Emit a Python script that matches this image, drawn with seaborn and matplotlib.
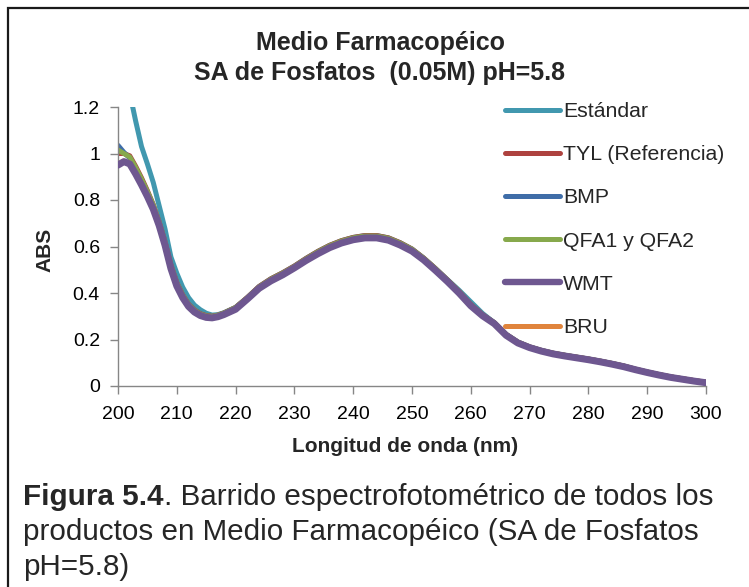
import numpy as np
import pandas as pd
import matplotlib
matplotlib.use("Agg")
import matplotlib.pyplot as plt
from matplotlib.patches import Rectangle
from matplotlib.lines import Line2D
import seaborn as sns

# Wavelength grid (nm)
wavelength = [200, 201, 202, 203, 204, 205, 206, 207, 208, 209, 210, 211, 212, 213, 214,
              215, 216, 217, 218,
              220, 222, 224, 226, 228, 230, 232, 234, 236, 238, 240, 242, 244, 246, 248,
              250, 252, 254, 256, 258, 260, 262, 264, 266, 268, 270, 272, 274, 276, 278,
              280, 282, 284, 286, 288, 290, 292, 294, 296, 298, 300]

estandar = [1.50, 1.38, 1.26, 1.14, 1.03, 0.955, 0.875, 0.775, 0.675, 0.555, 0.485, 0.425,
            0.380, 0.348, 0.328, 0.313, 0.305, 0.307, 0.315,
            0.338, 0.380, 0.428, 0.461, 0.487, 0.516, 0.549, 0.579, 0.605, 0.625, 0.639,
            0.647, 0.647, 0.637, 0.616, 0.589, 0.550, 0.505, 0.458, 0.412, 0.362, 0.312,
            0.272, 0.222, 0.189, 0.168, 0.153, 0.141, 0.132, 0.124, 0.116, 0.107, 0.097,
            0.086, 0.072, 0.060, 0.049, 0.039, 0.031, 0.023, 0.016]

tyl = [1.000, 1.000, 0.990, 0.945, 0.895, 0.840, 0.780, 0.705, 0.620, 0.520, 0.445, 0.392,
       0.352, 0.327, 0.311, 0.303, 0.300, 0.305, 0.314,
       0.338, 0.381, 0.428, 0.461, 0.487, 0.516, 0.549, 0.579, 0.605, 0.625, 0.639,
       0.647, 0.647, 0.637, 0.616, 0.589, 0.550, 0.505, 0.457, 0.407, 0.351, 0.307,
       0.272, 0.222, 0.189, 0.168, 0.153, 0.141, 0.132, 0.124, 0.116, 0.107, 0.097,
       0.086, 0.072, 0.060, 0.049, 0.039, 0.031, 0.023, 0.016]

bmp = [1.035, 1.005, 0.980, 0.935, 0.885, 0.832, 0.775, 0.700, 0.615, 0.515, 0.440, 0.388,
       0.349, 0.324, 0.308, 0.300, 0.298, 0.303, 0.312,
       0.336, 0.378, 0.424, 0.457, 0.483, 0.512, 0.545, 0.575, 0.601, 0.621, 0.635,
       0.643, 0.643, 0.633, 0.612, 0.586, 0.547, 0.502, 0.455, 0.405, 0.349, 0.305,
       0.271, 0.221, 0.188, 0.167, 0.152, 0.140, 0.131, 0.123, 0.115, 0.106, 0.096,
       0.085, 0.071, 0.059, 0.048, 0.038, 0.030, 0.022, 0.015]

qfa = [1.015, 1.000, 0.985, 0.940, 0.890, 0.836, 0.778, 0.703, 0.618, 0.518, 0.442, 0.390,
       0.350, 0.325, 0.309, 0.301, 0.299, 0.304, 0.313,
       0.337, 0.380, 0.426, 0.459, 0.485, 0.514, 0.547, 0.577, 0.603, 0.623, 0.637,
       0.645, 0.645, 0.635, 0.614, 0.588, 0.549, 0.504, 0.456, 0.406, 0.350, 0.306,
       0.272, 0.222, 0.189, 0.168, 0.153, 0.141, 0.132, 0.124, 0.116, 0.107, 0.097,
       0.086, 0.072, 0.060, 0.049, 0.039, 0.031, 0.023, 0.016]

wmt = [0.950, 0.965, 0.955, 0.912, 0.865, 0.815, 0.760, 0.690, 0.605, 0.505, 0.430, 0.380,
       0.342, 0.318, 0.303, 0.295, 0.293, 0.298, 0.307,
       0.330, 0.374, 0.420, 0.452, 0.478, 0.508, 0.540, 0.569, 0.595, 0.615, 0.629,
       0.637, 0.637, 0.627, 0.606, 0.580, 0.542, 0.497, 0.450, 0.400, 0.345, 0.302,
       0.268, 0.218, 0.185, 0.165, 0.150, 0.138, 0.129, 0.121, 0.113, 0.104, 0.094,
       0.083, 0.070, 0.058, 0.047, 0.037, 0.029, 0.021, 0.014]

bru = [0.955, 0.968, 0.958, 0.915, 0.868, 0.818, 0.763, 0.693, 0.608, 0.508, 0.433, 0.382,
       0.344, 0.320, 0.305, 0.297, 0.295, 0.300, 0.309,
       0.332, 0.376, 0.422, 0.454, 0.480, 0.510, 0.542, 0.571, 0.597, 0.617, 0.631,
       0.639, 0.639, 0.629, 0.608, 0.582, 0.544, 0.499, 0.452, 0.402, 0.347, 0.304,
       0.270, 0.220, 0.187, 0.167, 0.152, 0.140, 0.131, 0.123, 0.115, 0.106, 0.096,
       0.085, 0.072, 0.060, 0.049, 0.039, 0.031, 0.023, 0.016]

series_names = ["Estándar", "TYL (Referencia)", "BMP", "QFA1 y QFA2", "WMT", "BRU"]
series_values = [estandar, tyl, bmp, qfa, wmt, bru]
series_colors = ["#4198AF", "#AE423F", "#3F6DA8", "#87A94C", "#6E5790", "#E0843C"]

frames = [pd.DataFrame({"Longitud": wavelength, "ABS": vals, "Muestra": name})
          for name, vals in zip(series_names, series_values)]
df = pd.concat(frames, ignore_index=True)

sns.set_theme(style="white")
plt.rcParams["font.family"] = ["Liberation Sans", "DejaVu Sans"]

W, H = 749, 587
fig = plt.figure(figsize=(W / 100, H / 100), dpi=100)
ax = fig.add_axes([118 / W, 1 - 386 / H, (706 - 118) / W, (386 - 107) / H])

palette = dict(zip(series_names, series_colors))
sns.lineplot(data=df, x="Longitud", y="ABS", hue="Muestra", hue_order=series_names,
             palette=palette, sort=False, estimator=None, linewidth=3.6,
             legend=False, ax=ax)

# WMT drawn thicker and on top
for ln, name in zip(ax.get_lines(), series_names):
    ln.set_solid_capstyle("round")
    ln.set_solid_joinstyle("round")
    if name == "WMT":
        ln.set_linewidth(5.0)
        ln.set_zorder(5)

ax.set_xlim(200, 300)
ax.set_ylim(0, 1.2)
ax.set_xticks(np.arange(200, 301, 10))
ax.set_yticks([0, 0.2, 0.4, 0.6, 0.8, 1.0, 1.2])
ax.set_yticklabels(["0", "0.2", "0.4", "0.6", "0.8", "1", "1.2"])
for s in ["top", "right"]:
    ax.spines[s].set_visible(False)
for s in ["left", "bottom"]:
    ax.spines[s].set_color("#868686")
    ax.spines[s].set_linewidth(1.0)
ax.tick_params(axis="both", which="major", direction="out", length=6, width=1,
               color="#868686", labelsize=14, labelcolor="black",
               left=True, bottom=True)
ax.tick_params(axis="x", pad=8.5)
ax.tick_params(axis="y", pad=7)

ax.set_xlabel("Longitud de onda (nm)", fontsize=15, fontweight="bold", va="baseline")
ax.xaxis.set_label_coords((405 - 118) / 588, (386 - 452) / 279)
ax.set_ylabel("ABS", fontsize=15, fontweight="bold", va="center")
ax.yaxis.set_label_coords((45 - 118) / 588, (386 - 250) / 279)
ax.patch.set_alpha(0)

# Legend
handles = [Line2D([], [], color=c, linewidth=(4.6 if n == "WMT" else 3.6),
                  solid_capstyle="round") for n, c in zip(series_names, series_colors)]
leg = fig.legend(handles, series_names, loc="upper left",
                 bbox_to_anchor=(505 / W, 1 - 102 / H), frameon=False,
                 fontsize=15.3, handlelength=2.6, handletextpad=0.14,
                 labelspacing=1.14, borderpad=0, borderaxespad=0)

# Title
fig.text(380 / W, 1 - 50 / H, "Medio Farmacopéico", ha="center", va="baseline",
         fontsize=18, fontweight="bold")
fig.text(380 / W, 1 - 80 / H, "SA de Fosfatos  (0.05M) pH=5.8", ha="center", va="baseline",
         fontsize=18, fontweight="bold")

# Caption
cap_size = 21.3
t1 = fig.text(23 / W, 1 - 505 / H, "Figura 5.4", ha="left", va="baseline",
              fontsize=cap_size, fontweight="bold")
fig.canvas.draw()
ax.annotate(". Barrido espectrofotométrico de todos los", xy=(1, 0), xycoords=t1,
            va="bottom", ha="left", fontsize=cap_size, annotation_clip=False)
fig.text(23 / W, 1 - 540 / H, "productos en Medio Farmacopéico (SA de Fosfatos",
         ha="left", va="baseline", fontsize=cap_size)
fig.text(23 / W, 1 - 575 / H, "pH=5.8)", ha="left", va="baseline", fontsize=cap_size)

# Outer frame
fig.patches.append(Rectangle((8 / W, -0.05), 1.05, 1 - 8 / H + 0.05,
                             transform=fig.transFigure, fill=False,
                             edgecolor="#1a1a1a", linewidth=1.6))

fig.savefig("out.png", dpi=100)
